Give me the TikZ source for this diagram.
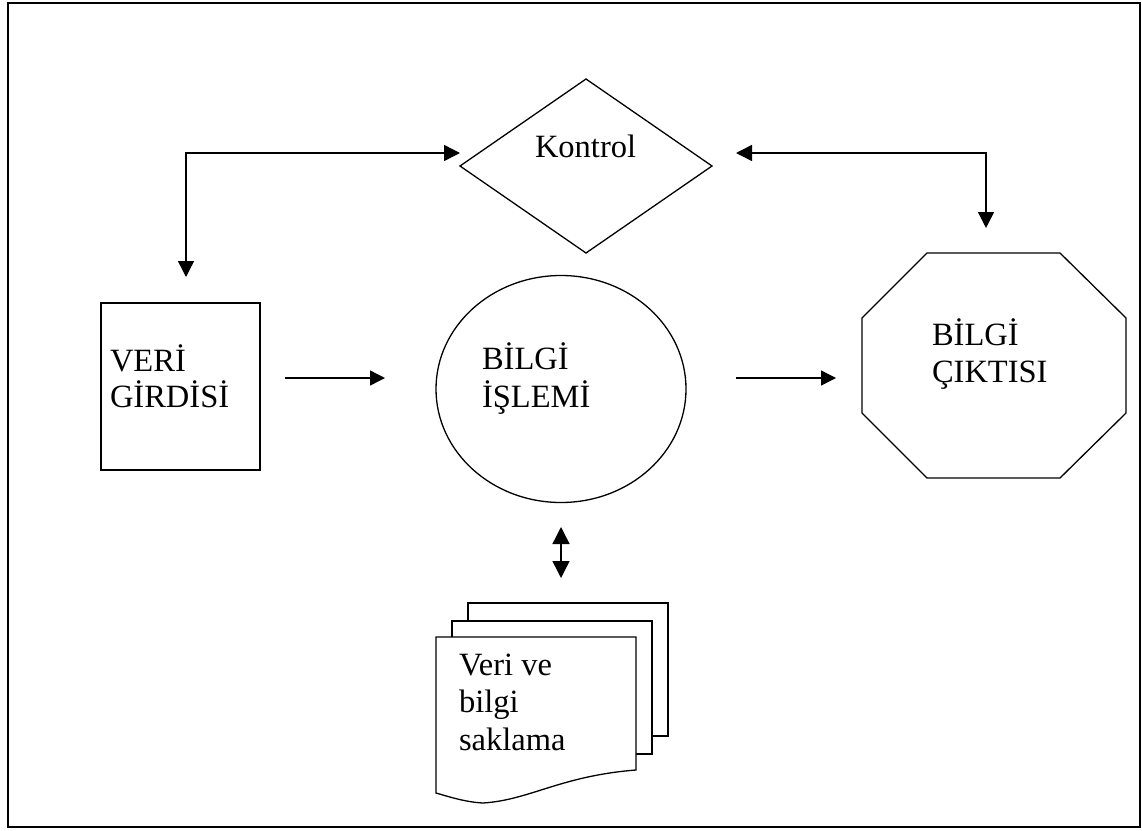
\documentclass[tikz,border=0pt]{standalone}
\usepackage{fontspec}
\setmainfont{Liberation Serif}
\usetikzlibrary{arrows.meta,shapes.geometric}
\begin{document}
\begin{tikzpicture}[x=1pt,y=-1pt,
  shapeline/.style={draw,line width=1.3pt,inner sep=0pt,outer sep=0pt},
  lbl/.style={anchor=base west,inner sep=0pt,outer sep=0pt,font=\fontsize{32.5}{38}\selectfont},
  elbow/.style={line width=1.4pt,{Triangle[length=16pt,width=16pt]}-{Triangle[length=16pt,width=16pt]}},
  heavy/.style={line width=2.4pt},
  flow/.style={line width=1.4pt,-{Triangle[length=15pt,width=15pt]}},
  twoway/.style={line width=1.4pt,{Triangle[length=17pt,width=17pt]}-{Triangle[length=17pt,width=17pt]}}]
\useasboundingbox (0,0) rectangle (1142,830);
% frame
\node[draw,line width=2pt,inner sep=0pt,minimum width=1132pt,minimum height=824pt] (frame) at (574,415) {};
% shapes
\node[shapeline,diamond,minimum width=252pt,minimum height=174pt] (kontrol) at (586,166) {};
\node[shapeline,line width=2pt,minimum width=159pt,minimum height=167pt] (girdi) at (180.5,386.5) {};
\node[shapeline,ellipse,minimum width=250pt,minimum height=227pt] (islem) at (561,389) {};
\coordinate (o1) at (927,253);
\coordinate (o2) at (1060,253);
\coordinate (o3) at (1126,318);
\coordinate (o4) at (1126,413);
\coordinate (o5) at (1060,478);
\coordinate (o6) at (927,478);
\coordinate (o7) at (862,413);
\coordinate (o8) at (862,318);
\draw[line width=1.3pt] (o1) -- (o2) -- (o3) -- (o4) -- (o5) -- (o6) -- (o7) -- (o8) -- cycle;
% documents
\draw[line width=1.3pt,fill=white] (468,603) rectangle (668,736);
\draw[line width=1.3pt,fill=white] (452,621) rectangle (652,754);
\draw[line width=1.3pt,fill=white] (436,637) -- (636,637) -- (636,770)
  .. controls (560,776) and (530,800) .. (483,803)
  .. controls (465,802) and (450,797) .. (436,793) -- cycle;
% labels
\node[lbl] (tK) at (535,157) {Kontrol};
\node[lbl] (tG1) at (110,371) {VERİ};
\node[lbl] (tG2) at (110,407) {GİRDİSİ};
\node[lbl] (tI1) at (482,369) {BİLGİ};
\node[lbl] (tI2) at (482,407) {İŞLEMİ};
\node[lbl] (tC1) at (932,345) {BİLGİ};
\node[lbl] (tC2) at (932,382) {ÇIKTISI};
\node[lbl] (tS1) at (459,675) {Veri ve};
\node[lbl] (tS2) at (459,712) {bilgi};
\node[lbl] (tS3) at (459,750) {saklama};
% connectors
\coordinate (kL) at (460,153);
\coordinate (gT) at (186,277);
\coordinate (kR) at (736,153);
\coordinate (cT) at (986,228);
\coordinate (gH) at (186,203);
\coordinate (gHe) at (186,263);
\coordinate (kH) at (412,153);
\coordinate (kHe) at (446,153);
\coordinate (cH) at (986,203);
\coordinate (cHe) at (986,214);
\draw[elbow] (gT) |- (kL);
\draw[elbow] (kR) -| (cT);
\draw[heavy] (gH) -- (gHe);
\draw[heavy] (kH) -- (kHe);
\draw[line width=1.9pt] (cH) -- (cHe);
\coordinate (a1) at (285,378);
\coordinate (a2) at (385,378);
\coordinate (b1) at (736,378);
\coordinate (b2) at (836,378);
\draw[flow] (a1) -- (a2);
\draw[flow] (b1) -- (b2);
\coordinate (d1) at (561,527);
\coordinate (d2) at (561,578);
\draw[twoway] (d1) -- (d2);
\end{tikzpicture}
\end{document}
